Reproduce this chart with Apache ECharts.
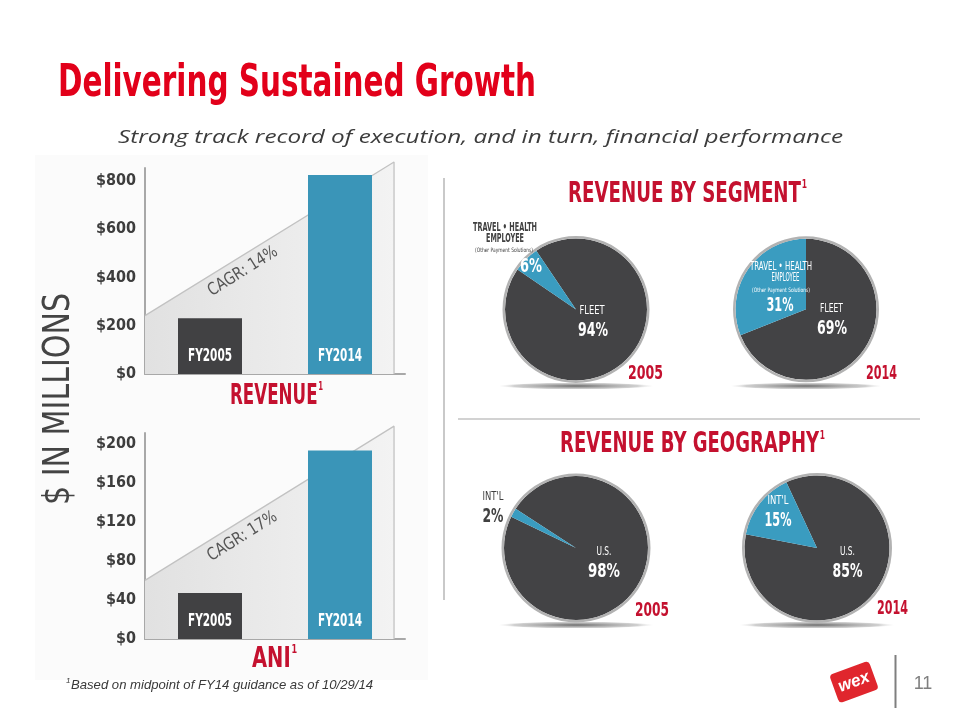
<!DOCTYPE html>
<html><head><meta charset="utf-8">
<script src="https://cdn.jsdelivr.net/npm/echarts@6/dist/echarts.min.js"></script>
<style>html,body{margin:0;padding:0;background:#fff}#c{width:960px;height:720px}</style>
</head><body><div id="c"></div>
<script>
// ---------- DATA ----------
const barCategories = ['FY2005', 'FY2014'];
const revenueValues = [231, 825];          // $ millions
const aniValues = [47, 193];               // $ millions
const revenueTickValues = [0, 200, 400, 600, 800];
const aniTickValues = [0, 40, 80, 120, 160, 200];
const revenueTrend = [242, 879];           // CAGR band, start/end
const aniTrend = [60, 218];
const cagrLabels = ['CAGR: 14%', 'CAGR: 17%'];
const chartTitles = ['REVENUE', 'ANI'];

const segmentNames = ['FLEET', 'TRAVEL • HEALTH EMPLOYEE'];
const otherSegmentLines = ['TRAVEL • HEALTH', 'EMPLOYEE', '(Other Payment Solutions)'];
const segment2005 = [94, 6];
const segment2014 = [69, 31];
const geoNames = ['U.S.', "INT'L"];
const geo2005 = [98, 2];
const geo2014 = [85, 15];
const pieYears = ['2005', '2014'];

// ---------- STYLE ----------
const CF = "'Liberation Sans Narrow','DejaVu Sans Condensed','Roboto Condensed','Liberation Sans',sans-serif";
const RED = '#e2001a', DRED = '#c4112f', DARK = '#414143', BLUE = '#3a95b8', AX = '#a8a8a8';
const pieColors = ['#434345', '#3a9cc0'];

const mctx = document.createElement('canvas').getContext('2d');
function tw(text, style, weight, size, family) {
  mctx.font = `${style} ${weight} ${size}px ${family}`;
  return mctx.measureText(text).width;
}
function T(text, cx, cy, w, size, o) {
  o = o || {};
  const st = o.style || 'normal', wt = o.weight || 'bold', fam = o.family || CF;
  const mw = tw(text, st, wt, size, fam);
  return {
    type: 'text', x: cx, y: cy, scaleX: w ? w / mw : 1, rotation: o.rot || 0, silent: true, z: 100,
    style: { text, fill: o.color || '#fff', fontSize: size, fontWeight: wt, fontStyle: st, fontFamily: fam,
      align: o.align || 'center', verticalAlign: 'middle' }
  };
}
function header(text, left, right, cy, size, color) {
  const mw = tw(text, 'normal', 'bold', size, CF);
  const ss = Math.round(size * 0.42);
  const sw = tw('1', 'normal', 'bold', ss, CF);
  const s = (right - left) / (mw + sw + 1);
  return [
    { type: 'text', x: left, y: cy, scaleX: s, silent: true, z: 100,
      style: { text, fill: color, fontSize: size, fontWeight: 'bold', fontFamily: CF, align: 'left', verticalAlign: 'middle' } },
    { type: 'text', x: left + (mw + 1) * s, y: cy - size * 0.3, scaleX: s, silent: true, z: 100,
      style: { text: '1', fill: color, fontSize: ss, fontWeight: 'bold', fontFamily: CF, align: 'left', verticalAlign: 'middle' } }
  ];
}

const chart = echarts.init(document.getElementById('c'), null, { renderer: 'canvas' });

function yAxis(grid, max, interval, ticks, pad) {
  return {
    type: 'value', gridIndex: grid, min: 0, max, interval,
    axisLine: { show: true, lineStyle: { color: AX, width: 2 } },
    axisTick: { show: false }, splitLine: { show: false },
    axisLabel: { margin: 9, color: '#3d3d3d', fontFamily: CF, fontWeight: 'bold', fontSize: 16,
      padding: [0, 0, pad, 0],
      formatter: v => ticks.includes(v) ? '$' + v : '' }
  };
}
function xCat(grid) {
  return { type: 'category', gridIndex: grid, data: barCategories,
    axisLine: { show: true, lineStyle: { color: AX, width: 2 } },
    axisTick: { show: false }, axisLabel: { show: false } };
}
function xHidden(grid) { return { type: 'value', gridIndex: grid, min: 0, max: 1.044, show: false }; }

function trendSeries(axisIdx, trend) {
  return { type: 'line', xAxisIndex: axisIdx, yAxisIndex: axisIdx / 2 | 0, clip: false, silent: true, z: 1,
    symbol: 'none', data: [[0, trend[0]], [1, trend[1]], [1, 0]],
    lineStyle: { color: '#c2c2c2', width: 1.3 },
    areaStyle: { opacity: 1, color: { type: 'linear', x: 0, y: 0, x2: 1, y2: 0,
      colorStops: [{ offset: 0, color: '#e1e1e1' }, { offset: 1, color: '#f3f3f3' }] } } };
}
function barSeries(xi, yi, values) {
  return { type: 'bar', xAxisIndex: xi, yAxisIndex: yi, barWidth: 64, z: 3, silent: true,
    data: values.map((v, i) => ({ value: v, itemStyle: { color: i === 0 ? DARK : BLUE } })),
    label: { show: false } };
}
function pie(center, r, values, names, startAngle) {
  return [
    { type: 'pie', center, radius: [0, r], startAngle, clockwise: true, silent: true, z: 2,
      label: { show: false }, labelLine: { show: false },
      itemStyle: { borderWidth: 0 },
      data: values.map((v, i) => ({ name: names[i], value: v, itemStyle: { color: pieColors[i], borderWidth: 0 } })) },
    { type: 'pie', center, radius: [r, r + 2.5], silent: true, z: 2, label: { show: false },
      itemStyle: { borderWidth: 0 }, data: [{ value: 1, itemStyle: { color: '#b2b2b2' } }] }
  ];
}
function shadow(cx, cy, rx) {
  return { type: 'circle', x: cx, y: cy, scaleY: 0.045, silent: true, z: 0,
    shape: { cx: 0, cy: 0, r: rx },
    style: { fill: { type: 'radial', x: 0.5, y: 0.5, r: 0.5,
      colorStops: [{ offset: 0, color: 'rgba(60,60,60,0.75)' }, { offset: 0.8, color: 'rgba(120,120,120,0.35)' }, { offset: 1, color: 'rgba(200,200,200,0)' }] } } };
}

const graphics = [
  { type: 'rect', shape: { x: 35, y: 155, width: 393, height: 525 }, style: { fill: '#fbfbfb' }, silent: true, z: -10 },
  { type: 'line', shape: { x1: 444, y1: 178, x2: 444, y2: 600 }, style: { stroke: '#c9c9c9', lineWidth: 2 }, silent: true },
  { type: 'line', shape: { x1: 458, y1: 419, x2: 920, y2: 419 }, style: { stroke: '#d2d2d2', lineWidth: 2 }, silent: true },
  T('Delivering Sustained Growth', 58, 84, 478, 45, { color: RED, align: 'left' }),
  T('Strong track record of execution, and in turn, financial performance', 118, 138, 725, 19,
    { color: '#3c3c3c', style: 'italic', weight: 'normal', family: "'Open Sans','Liberation Sans',sans-serif", align: 'left' }),
  T('$ IN MILLIONS', 59, 399, 212, 38, { color: '#444', weight: 'normal', rot: Math.PI / 2 }),
  ...header(chartTitles[0], 230, 323, 396, 29, DRED),
  ...header(chartTitles[1], 252, 297, 659, 29, DRED),
  ...header('REVENUE BY SEGMENT', 568, 807, 194, 29, DRED),
  ...header('REVENUE BY GEOGRAPHY', 560, 825, 444.5, 29, DRED),
  T(cagrLabels[0], 243, 271.5, 79, 17, { color: '#555', weight: 'normal', rot: 32 * Math.PI / 180 }),
  T(cagrLabels[1], 242.5, 536.5, 79, 17, { color: '#555', weight: 'normal', rot: 32 * Math.PI / 180 }),
  // footnote
  { type: 'text', x: 66, y: 681, silent: true, style: { text: '1', fill: '#3a3a3a', fontSize: 8, fontStyle: 'italic', fontFamily: "'Liberation Sans',Arial,sans-serif", align: 'left', verticalAlign: 'middle' } },
  T('Based on midpoint of FY14 guidance as of 10/29/14', 71, 685, 302, 13,
    { color: '#3a3a3a', style: 'italic', weight: 'normal', family: "'Liberation Sans',Arial,sans-serif", align: 'left' }),
  // pie shadows
  shadow(576, 386, 78), shadow(806, 386, 76), shadow(576, 625, 78), shadow(817, 625, 78),
  // segment 2005
  T(otherSegmentLines[0], 505, 228, 64, 12, { color: '#404040' }),
  T(otherSegmentLines[1], 505, 239, 38, 12, { color: '#404040' }),
  T(otherSegmentLines[2], 504, 250, 58, 6, { color: '#404040', weight: 'normal' }),
  T(segment2005[1] + '%', 531, 267, 22, 19, {}),
  T(segmentNames[0], 592, 310.5, 25, 12, { weight: 'normal' }),
  T(segment2005[0] + '%', 593, 330.5, 30, 20, {}),
  T(pieYears[0], 645.5, 374, 35, 20, { color: DRED }),
  // segment 2014
  T(otherSegmentLines[0], 781, 267, 62, 12, { weight: 'normal' }),
  T(otherSegmentLines[1], 785.5, 277.5, 28, 12, { weight: 'normal' }),
  T(otherSegmentLines[2], 781, 290.5, 58, 6, { weight: 'normal' }),
  T(segment2014[1] + '%', 780, 306, 27, 20, {}),
  T(segmentNames[0], 831.5, 308.5, 23, 12, { weight: 'normal' }),
  T(segment2014[0] + '%', 832, 329, 30, 20, {}),
  T(pieYears[1], 881.5, 374, 31, 20, { color: DRED }),
  // geography 2005
  T(geoNames[1], 493, 497, 21, 12, { color: '#404040', weight: 'normal' }),
  T(geo2005[1] + '%', 493, 517, 21, 20, { color: '#404040' }),
  T(geoNames[0], 604, 551.5, 15, 12, { weight: 'normal' }),
  T(geo2005[0] + '%', 604, 571.5, 32, 20, {}),
  T(pieYears[0], 652, 611, 34, 20, { color: DRED }),
  // geography 2014
  T(geoNames[1], 778, 500.5, 21, 12, { weight: 'normal' }),
  T(geo2014[1] + '%', 778, 521, 27, 20, {}),
  T(geoNames[0], 847.5, 551.5, 15, 12, { weight: 'normal' }),
  T(geo2014[0] + '%', 847.5, 571.5, 30, 20, {}),
  T(pieYears[1], 892.5, 609, 31, 20, { color: DRED }),
  // footer logo + page
  { type: 'group', x: 854, y: 682, rotation: 20 * Math.PI / 180, silent: true, children: [
    { type: 'rect', shape: { x: -21, y: -15, width: 42, height: 30, r: 4 }, style: { fill: '#e0262d' } },
    { type: 'text', x: 0, y: 0, style: { text: 'wex', fill: '#fff', fontSize: 17, fontWeight: 'bold', fontStyle: 'italic', fontFamily: "'Liberation Sans',sans-serif", align: 'center', verticalAlign: 'middle' } }
  ] },
  { type: 'line', shape: { x1: 895.5, y1: 655, x2: 895.5, y2: 708 }, style: { stroke: '#7f7f7f', lineWidth: 2 }, silent: true },
  { type: 'text', x: 923, y: 684, silent: true, style: { text: '11', fill: '#7f7f7f', fontSize: 18, fontFamily: "'Liberation Sans',sans-serif", align: 'center', verticalAlign: 'middle' } }
];

chart.setOption({
  animation: false,
  backgroundColor: '#ffffff',
  grid: [
    { left: 145, top: 168, width: 260, height: 206 },
    { left: 145, top: 433, width: 260, height: 206 }
  ],
  xAxis: [xCat(0), xHidden(0), xCat(1), xHidden(1)],
  yAxis: [yAxis(0, 854, 200, revenueTickValues, 6), yAxis(1, 211, 40, aniTickValues, 2)],
  series: [
    trendSeries(1, revenueTrend),
    barSeries(0, 0, revenueValues),
    trendSeries(3, aniTrend),
    barSeries(2, 1, aniValues),
    ...pie([576, 309.5], 71, segment2005, segmentNames, 124),
    ...pie([806, 309.3], 70.5, segment2014, segmentNames, 90),
    ...pie([576, 548], 72, geo2005, geoNames, 147),
    ...pie([817, 548], 72.5, geo2014, geoNames, 115)
  ],
  graphic: graphics
});

// category labels inside the bars, positioned through the chart's own axes
const barLabels = [];
[[0, 0], [2, 1]].forEach(([xi, yi]) => {
  barCategories.forEach(cat => {
    const p = chart.convertToPixel({ xAxisIndex: xi, yAxisIndex: yi }, [cat, 0]);
    barLabels.push(T(cat, p[0], p[1] - 17.5, 44, 18, { color: '#fff' }));
  });
});
chart.setOption({ graphic: graphics.concat(barLabels) });
</script></body></html>
